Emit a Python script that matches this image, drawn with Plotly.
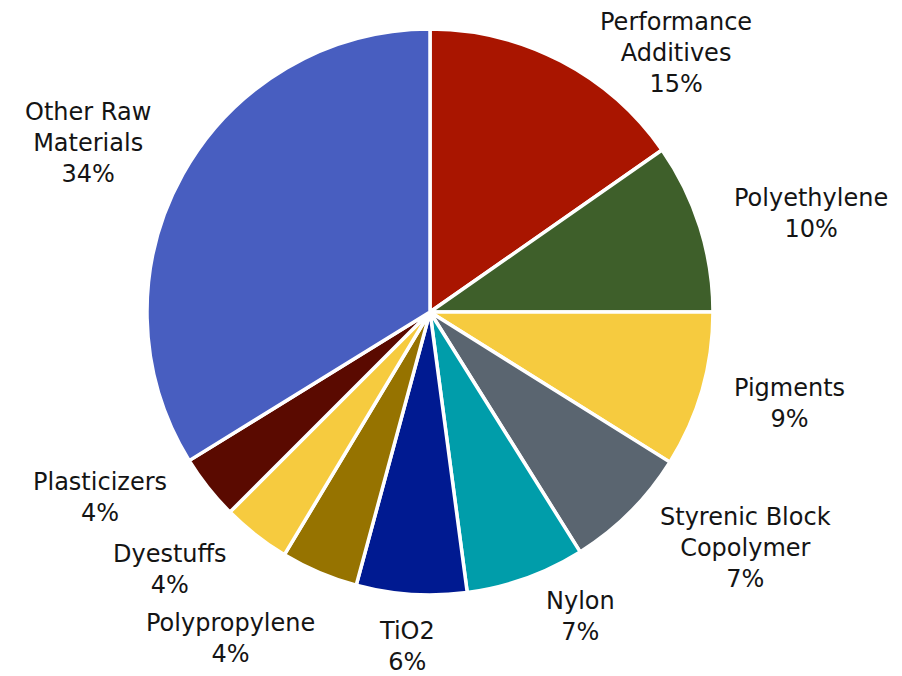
import plotly.graph_objects as go

categories = ["Performance<br>Additives", "Polyethylene", "Pigments", "Styrenic Block<br>Copolymer",
              "Nylon", "TiO2", "Polypropylene", "Dyestuffs", "Plasticizers", "Other Raw<br>Materials"]
values = [15.3, 9.7, 8.9, 7.2, 6.8, 6.3, 4.4, 3.9, 3.7, 33.8]
pct_labels = ["15%", "10%", "9%", "7%", "7%", "6%", "4%", "4%", "4%", "34%"]
colors = ["#A91500", "#3E5F2A", "#F6CB3F", "#5A6570", "#009DAA",
          "#001A91", "#967300", "#F6CB3F", "#5A0A00", "#485EC0"]

# label block centres in screen pixels (layout only)
label_pos = [(676, 53), (811, 213), (789, 403), (745, 548), (580, 616),
             (407, 646), (230, 638), (170, 569), (100, 497), (88, 143)]

W, H = 902, 676
OFF = 8  # page body margin
cx, cy, r = 430 - OFF, 312 - OFF, 283

fig = go.Figure(go.Pie(
    labels=categories,
    values=values,
    sort=False,
    direction="clockwise",
    rotation=0,
    marker=dict(colors=colors, line=dict(color="white", width=3.5)),
    textinfo="none",
    hoverinfo="label+percent",
    showlegend=False,
    domain=dict(x=[(cx - r) / W, (cx + r) / W], y=[1 - (cy + r) / H, 1 - (cy - r) / H]),
))

for cat, pct, (px, py) in zip(categories, pct_labels, label_pos):
    fig.add_annotation(
        x=(px - OFF) / W, y=1 - (py - OFF) / H, xref="paper", yref="paper",
        text=f"{cat}<br>{pct}", showarrow=False,
        xanchor="center", yanchor="middle", align="center",
        font=dict(family="DejaVu Sans", size=24, color="#141414"),
    )

fig.update_layout(
    width=W, height=H,
    margin=dict(l=0, r=0, t=0, b=0),
    paper_bgcolor="white",
    plot_bgcolor="white",
)
fig.write_html("out.html")
